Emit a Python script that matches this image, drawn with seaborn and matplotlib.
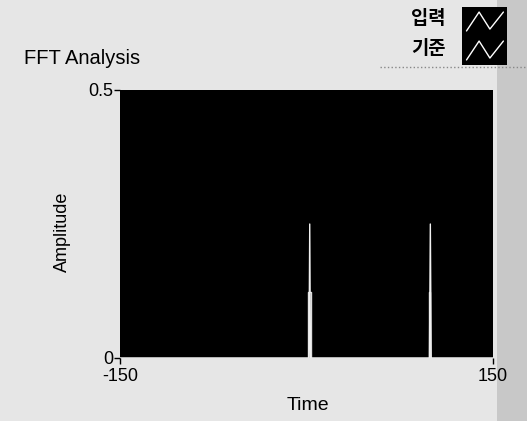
import matplotlib
matplotlib.use("Agg")
import matplotlib.pyplot as plt
import seaborn as sns
import pandas as pd
from matplotlib.patches import Rectangle

# ---- data ----
ref_time = [-150, 2.0, 2.6, 3.2, 98.9, 99.6, 100.3, 150]
ref_amp = [0, 0, 0.25, 0, 0, 0.25, 0, 0]
in_time = [-150, 1.0, 1.0, 3.4, 3.4, 98.3, 98.3, 99.6, 99.6, 150]
in_amp = [0, 0, 0.123, 0.123, 0, 0, 0.123, 0.123, 0, 0]
series_names = ["입력", "기준"]
x_ticks = [-150, 150]
y_ticks = [0, 0.5]
y_tick_labels = ["0", "0.5"]
icon_x = [0.1, 0.38, 0.62, 0.92]
icon_y = [0.0, 1.0, 0.1, 1.0]

df = pd.concat([
    pd.DataFrame({"Time": in_time, "Amplitude": in_amp, "series": series_names[0]}),
    pd.DataFrame({"Time": ref_time, "Amplitude": ref_amp, "series": series_names[1]}),
], ignore_index=True)

sns.set_theme(style="white")
plt.rcParams["font.family"] = ["Liberation Sans", "DejaVu Sans"]

bg = "#e6e6e6"
fig = plt.figure(figsize=(5.27, 4.21), dpi=100, facecolor=bg)
# darker strip at the right edge (behind everything)
fig.patches.append(Rectangle((497 / 527, 0.0), 30 / 527, 1.0, transform=fig.transFigure,
                             facecolor="#c8c8c8", edgecolor="none", zorder=-10))

ax = fig.add_axes([120 / 527, 1 - 358 / 421, 373 / 527, 268 / 421])
ax.set_facecolor("black")
sns.lineplot(data=df, x="Time", y="Amplitude", hue="series",
             estimator=None, sort=False, palette=["#dcdcdc", "#f0f0f0"],
             linewidth=1.0, legend=False, ax=ax)

ax.set_xlim(-150, 150)
ax.set_ylim(0, 0.5)
ax.set_xticks(x_ticks)
ax.set_xticklabels([str(v) for v in x_ticks])
ax.set_yticks(y_ticks)
ax.set_yticklabels(y_tick_labels)
ax.tick_params(axis="both", which="both", direction="out", length=4, width=1,
               color="black", labelsize=13, labelcolor="black",
               bottom=True, left=True)
ax.tick_params(axis="x", pad=3)
ax.tick_params(axis="y", pad=1)
for s in ax.spines.values():
    s.set_visible(False)
ax.set_xlabel("Time", fontsize=14, color="black")
ax.set_ylabel("Amplitude", fontsize=13, color="black")
ax.xaxis.set_label_coords((308 - 120) / 373, -(405 - 358) / 268)
ax.yaxis.set_label_coords(-(120 - 62) / 373, (358 - 232) / 268)
ax.xaxis.label.set_va("center")
ax.yaxis.label.set_va("center")

fig.text(24 / 527, 1 - 58 / 421, "FFT Analysis", fontsize=14.5, color="black",
         va="center", ha="left")

# legend: labels + one black icon box holding two zigzags
kfont = ["Noto Sans CJK KR", "DejaVu Sans"]
fig.text(446 / 527, 1 - 18 / 421, series_names[0], fontsize=13.5, color="black",
         ha="right", va="center", family=kfont, fontweight="bold")
fig.text(446 / 527, 1 - 48 / 421, series_names[1], fontsize=13.5, color="black",
         ha="right", va="center", family=kfont, fontweight="bold")
iax = fig.add_axes([462 / 527, 1 - 65 / 421, 45 / 527, 58 / 421])
iax.set_facecolor("black")
for off in (1.15, 0.0):
    iax.plot(icon_x, [v * 0.75 + off + 0.2 for v in icon_y], color="white", lw=1)
iax.set_xlim(0, 1)
iax.set_ylim(0, 2.3)
iax.set_xticks([])
iax.set_yticks([])
for s in iax.spines.values():
    s.set_visible(False)

fig.lines.append(plt.Line2D([380 / 527, 1], [1 - 67 / 421, 1 - 67 / 421],
                            transform=fig.transFigure, color="#888888", lw=1,
                            linestyle=":"))

fig.savefig("out.png", dpi=100, facecolor=bg)
